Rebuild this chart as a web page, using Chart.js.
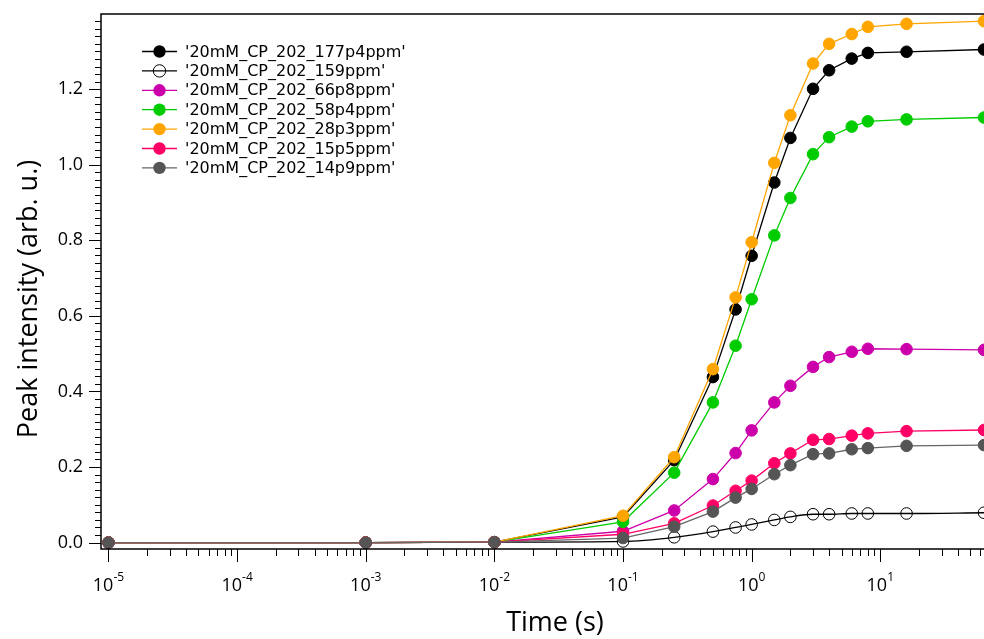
<!DOCTYPE html>
<html>
<head>
<meta charset="utf-8">
<script src="https://cdn.jsdelivr.net/npm/chart.js"></script>
<style>
  body { margin: 0; background: #fff; }
</style>
</head>
<body>
<canvas id="chartPeaks" width="984" height="639"></canvas>
<script>
// time points (s)
var times = [1e-5, 1e-3, 1e-2, 0.1, 0.25, 0.5, 0.75, 1, 1.5, 2, 3, 4, 6, 8, 16, 64];

// peak intensities (arb. u.)
var p177p4 = [0, 0, 0.001, 0.068, 0.218, 0.438, 0.617, 0.759, 0.953, 1.071, 1.201, 1.250, 1.281, 1.296, 1.299, 1.305];
var p159   = [0, 0, 0.001, 0.003, 0.014, 0.029, 0.040, 0.048, 0.060, 0.068, 0.075, 0.075, 0.077, 0.077, 0.077, 0.079];
var p66p8  = [0, 0, 0.001, 0.030, 0.085, 0.168, 0.237, 0.297, 0.371, 0.415, 0.465, 0.491, 0.505, 0.513, 0.512, 0.510];
var p58p4  = [0, 0, 0.001, 0.055, 0.185, 0.371, 0.521, 0.644, 0.813, 0.912, 1.028, 1.073, 1.101, 1.115, 1.120, 1.125];
var p28p3  = [0, 0, 0.001, 0.071, 0.226, 0.459, 0.649, 0.795, 1.005, 1.131, 1.268, 1.320, 1.346, 1.365, 1.373, 1.380];
var p15p5  = [0, 0, 0.001, 0.022, 0.051, 0.098, 0.137, 0.164, 0.210, 0.236, 0.272, 0.274, 0.283, 0.289, 0.295, 0.298];
var p14p9  = [0, 0, 0.001, 0.012, 0.042, 0.082, 0.119, 0.142, 0.181, 0.205, 0.234, 0.236, 0.247, 0.250, 0.256, 0.258];

var yLabels = [0, 0.2, 0.4, 0.6, 0.8, 1.0, 1.2];
var xDecades = [-5, -4, -3, -2, -1, 0, 1];

function pts(vals) {
    return times.map(function (t, i) { return {x: t, y: vals[i]}; });
}

function series(label, vals, line, fill, idx) {
    return {
        label: label,
        data: pts(vals),
        borderColor: line,
        borderWidth: 1.3,
        pointRadius: 5.8,
        pointHoverRadius: 5.8,
        pointBackgroundColor: fill,
        pointBorderColor: fill === 'transparent' ? line : fill,
        pointBorderWidth: 1,
        order: 10 - idx
    };
}

var datasets = [
    series("'20mM_CP_202_177p4ppm'", p177p4, '#000000', '#000000', 0),
    series("'20mM_CP_202_159ppm'", p159, '#000000', 'transparent', 1),
    series("'20mM_CP_202_66p8ppm'", p66p8, '#cc00aa', '#cc00aa', 2),
    series("'20mM_CP_202_58p4ppm'", p58p4, '#00cc00', '#00cc00', 3),
    series("'20mM_CP_202_28p3ppm'", p28p3, '#ffa500', '#ffa500', 4),
    series("'20mM_CP_202_15p5ppm'", p15p5, '#ff0066', '#ff0066', 5),
    series("'20mM_CP_202_14p9ppm'", p14p9, '#666666', '#555555', 6)
];
datasets[1].cubicInterpolationMode = 'monotone';

// axes, tick marks, tick labels with superscripts, titles and legend
var decorPlugin = {
    id: 'decor',
    afterDraw: function (chart) {
        var ctx = chart.ctx, a = chart.chartArea;
        var x = chart.scales.x, y = chart.scales.y;
        ctx.save();
        ctx.strokeStyle = '#000';
        ctx.lineWidth = 1.5;
        ctx.beginPath();
        ctx.moveTo(a.right + 2, a.top);
        ctx.lineTo(a.left, a.top);
        ctx.lineTo(a.left, a.bottom);
        ctx.lineTo(a.right + 2, a.bottom);
        ctx.stroke();

        ctx.lineWidth = 1;
        ctx.beginPath();
        // x ticks
        xDecades.forEach(function (e) {
            for (var k = 1; k <= 9; k++) {
                var v = k * Math.pow(10, e);
                if (v < x.min || v > x.max) continue;
                var px = Math.round(x.getPixelForValue(v)) + 0.5;
                ctx.moveTo(px, a.bottom);
                ctx.lineTo(px, a.bottom + (k === 1 ? 13 : 7));
            }
        });
        // y ticks
        for (var i = 0; i <= 69; i++) {
            var val = i * 0.02;
            if (val > y.max) break;
            var py = Math.round(y.getPixelForValue(val)) + 0.5;
            var major = i % 10 === 0;
            ctx.moveTo(a.left, py);
            ctx.lineTo(a.left - (major ? 12 : 6), py);
        }
        ctx.stroke();

        // x tick labels 10^e
        ctx.fillStyle = '#000';
        ctx.textBaseline = 'alphabetic';
        ctx.textAlign = 'left';
        xDecades.forEach(function (e) {
            var px = x.getPixelForValue(Math.pow(10, e));
            ctx.font = '18px "Open Sans"';
            var w1 = ctx.measureText('10').width;
            ctx.font = '12px "Open Sans"';
            var ex = e < 0 ? '-' + (-e) : String(e);
            var w2 = ctx.measureText(ex).width;
            var x0 = px - (w1 + w2) / 2;
            ctx.font = '18px "Open Sans"';
            ctx.fillText('10', x0, 591);
            ctx.font = '12px "Open Sans"';
            ctx.fillText(ex, x0 + w1, 581);
        });

        // axis titles
        ctx.font = '27px "Open Sans"';
        ctx.textAlign = 'center';
        ctx.fillText('Time (s)', 555, 631);
        ctx.save();
        ctx.translate(37, 299);
        ctx.rotate(-Math.PI / 2);
        ctx.fillText('Peak intensity (arb. u.)', 0, 0);
        ctx.restore();

        // legend
        ctx.font = '16px "DejaVu Sans"';
        ctx.textAlign = 'left';
        ctx.textBaseline = 'middle';
        chart.data.datasets.forEach(function (ds, i) {
            var ly = 51.5 + i * 19.4;
            ctx.strokeStyle = ds.borderColor;
            ctx.lineWidth = 1.3;
            ctx.beginPath();
            ctx.moveTo(142, ly);
            ctx.lineTo(177, ly);
            ctx.stroke();
            ctx.beginPath();
            ctx.arc(159.5, ly, 6.2, 0, Math.PI * 2);
            if (ds.pointBackgroundColor !== 'transparent') {
                ctx.fillStyle = ds.pointBackgroundColor;
                ctx.fill();
            } else {
                ctx.lineWidth = 1;
                ctx.stroke();
            }
            ctx.fillStyle = '#000';
            ctx.fillText(ds.label, 185, ly + 1);
        });
        ctx.restore();
    }
};

function fixBox(w, h) {
    return function (scale) {
        if (w !== null) scale.width = w;
        if (h !== null) scale.height = h;
        scale.paddingTop = 0;
        scale.paddingBottom = 0;
        scale.paddingLeft = 0;
        scale.paddingRight = 0;
    };
}

var ctx = document.getElementById('chartPeaks');
var peakChart = new Chart(ctx, {
    type: 'line',
    data: { datasets: datasets },
    options: {
        responsive: false,
        animation: false,
        layout: {
            autoPadding: false,
            padding: { top: 14, right: 0, bottom: 0, left: 0 }
        },
        plugins: {
            legend: { display: false },
            tooltip: { enabled: false }
        },
        scales: {
            x: {
                type: 'logarithmic',
                min: 8.75e-6,
                max: 64,
                grid: { display: false, drawTicks: false },
                border: { display: false },
                ticks: { display: false },
                afterFit: fixBox(null, 90)
            },
            y: {
                type: 'linear',
                min: -0.017,
                max: 1.399,
                grid: { display: false, drawTicks: false },
                border: { display: false },
                afterBuildTicks: function (scale) {
                    scale.ticks = yLabels.map(function (v) { return {value: v}; });
                },
                ticks: {
                    padding: 18,
                    color: '#000',
                    font: { family: 'Open Sans', size: 18 },
                    callback: function (v) { return Number(v).toFixed(1); }
                },
                afterFit: fixBox(101, null)
            }
        }
    },
    plugins: [decorPlugin]
});
</script>
</body>
</html>
